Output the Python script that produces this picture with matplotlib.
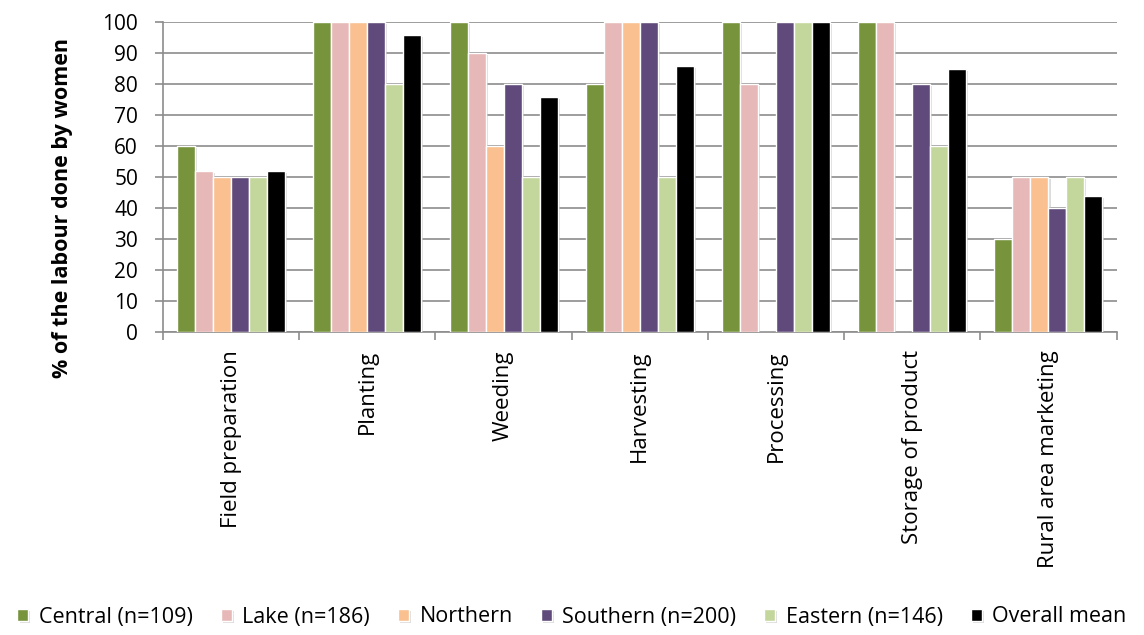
import matplotlib

matplotlib.use("Agg")
import matplotlib.pyplot as plt
import matplotlib.patheffects as pe
import numpy as np

plt.rcParams.update({"font.family": ["Open Sans", "DejaVu Sans"]})

activities = ["Field preparation", "Planting", "Weeding", "Harvesting",
              "Processing", "Storage of product", "Rural area marketing"]
regions = ["Central (n=109)", "Lake (n=186)", "Northern", "Southern (n=200)",
           "Eastern (n=146)", "Overall mean"]
central = [60, 100, 100, 80, 100, 100, 30]
lake = [52, 100, 90, 100, 80, 100, 50]
northern = [50, 100, 60, 100, 0, 0, 50]
southern = [50, 100, 80, 100, 100, 80, 40]
eastern = [50, 80, 50, 50, 100, 60, 50]
overall = [52, 96, 76, 86, 100, 85, 44]

series = [central, lake, northern, southern, eastern, overall]
colors = ["#77933C", "#E6B9B8", "#FAC090", "#604A7B", "#C3D69B", "#000000"]
GRID = "#8c8c8c"

fig = plt.figure(figsize=(11.44, 6.35), dpi=100)
ax = fig.add_axes([0.1425, 0.477, 0.8335, 0.488])

# soft drop shadow like the Excel original
shadow = [pe.SimplePatchShadow(offset=(1.5, -1.5), shadow_rgbFace="#bbbbbb", alpha=0.5),
          pe.Normal()]

x = np.arange(len(activities))
w = 0.132
for i, (vals, col) in enumerate(zip(series, colors)):
    bars = ax.bar(x + (i - 2.5) * w, vals, width=w, color=col, edgecolor="white",
                  linewidth=1.0, label=regions[i], zorder=3)
    for b in bars:
        b.set_path_effects(shadow)

ax.set_xlim(-0.5, len(activities) - 0.5)
ax.set_ylim(0, 100)
ax.set_yticks(range(0, 101, 10))
ax.yaxis.grid(True, color=GRID, linewidth=1.2, zorder=0)
ax.set_axisbelow(True)

# category boundaries get the tick marks, names sit at the centres
ax.set_xticks(np.arange(-0.5, len(activities), 1.0))
ax.set_xticklabels([])
ax.set_xticks(x, minor=True)
ax.set_xticklabels(activities, minor=True, rotation=90, fontsize=16)
ax.tick_params(axis="x", which="minor", length=0, pad=13)
ax.tick_params(axis="x", which="major", length=6, color=GRID, width=1.2)
ax.tick_params(axis="y", length=6, color=GRID, width=1.2, labelsize=15, pad=12)

for side in ("top", "right"):
    ax.spines[side].set_visible(False)
for side in ("left", "bottom"):
    ax.spines[side].set_color(GRID)
    ax.spines[side].set_linewidth(1.2)

ax.set_ylabel("% of the labour done by women", fontsize=15.5, fontweight="bold")
ax.yaxis.set_label_coords(-0.094, 0.40)

fig.legend(loc="center", bbox_to_anchor=(0.5, 1 - 617 / 635), ncol=6, frameon=False,
           fontsize=15.5, handlelength=0.5, handleheight=0.5, handletextpad=0.5,
           columnspacing=1.3)

fig.savefig("out.png", dpi=100, facecolor="white")
